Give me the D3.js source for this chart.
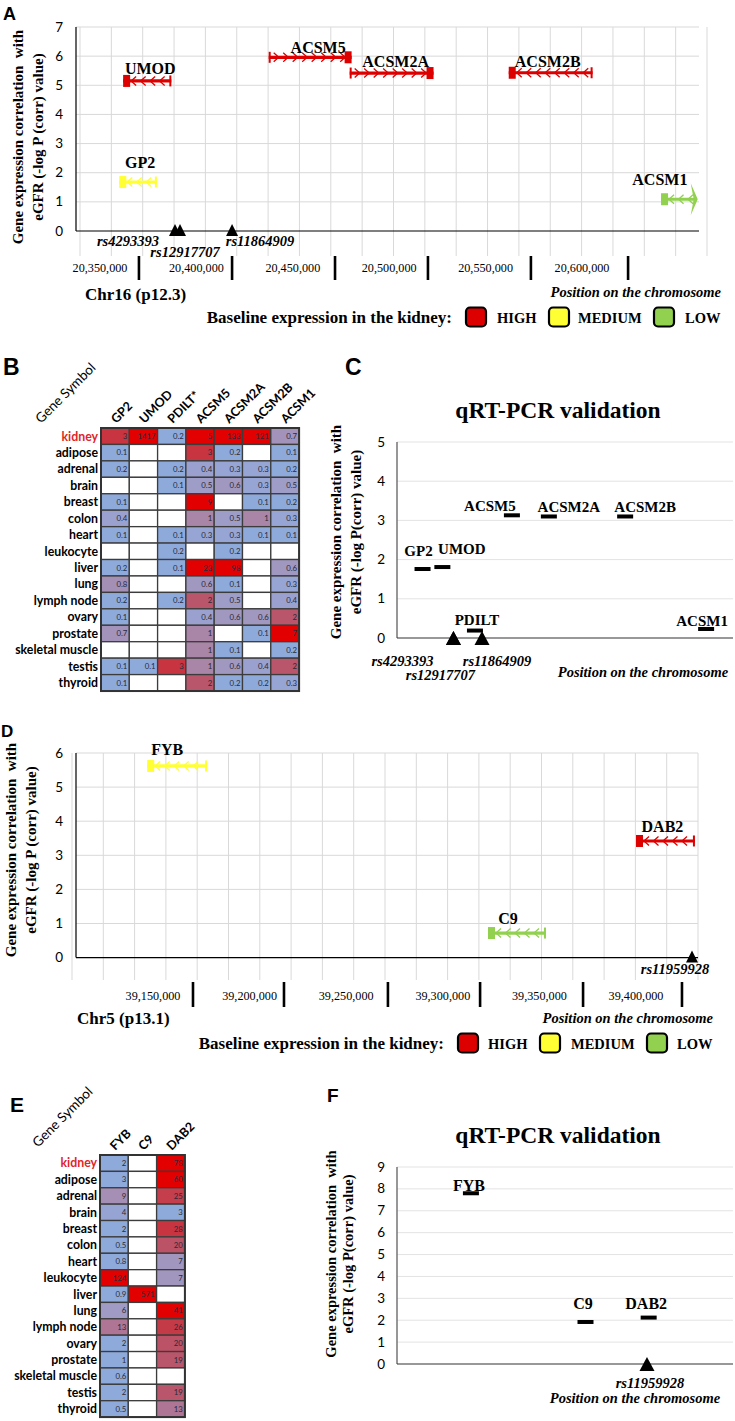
<!DOCTYPE html>
<html><head><meta charset="utf-8">
<script src="https://cdn.jsdelivr.net/npm/d3@7"></script>
<style>
html,body{margin:0;padding:0;background:#fff;}
svg{display:block;}
text{white-space:pre;}
</style></head><body>
<script>
// ================= DATA =================
// Panel A – Chr16 (p12.3)
const genesA  = ["UMOD","GP2","ACSM5","ACSM2A","ACSM2B","ACSM1"];
const startA  = [20362000, 20360000, 20437500, 20479500, 20562000, 20641000];
const endA    = [20387000, 20379500, 20480500, 20523000, 20605500, 20659500];
const corrA   = [5.15, 1.68, 5.96, 5.42, 5.43, 1.09];
const levelA  = ["HIGH","MEDIUM","HIGH","HIGH","HIGH","LOW"];
const strandA = ["-","-","+","+","-","-"];
const snpA    = ["rs4293393","rs12917707","rs11864909"];
const snpPosA = [20388900, 20391500, 20418500];
const tickA   = [20350000,20400000,20450000,20500000,20550000,20600000];
const sepA    = [20370200,20418500,20471900,20520100,20573500,20623900];
const yTicksA = [0,1,2,3,4,5,6,7];

// Panel B – tissue expression (Chr16 genes)
const tissues = ["kidney","adipose","adrenal","brain","breast","colon","heart","leukocyte","liver","lung","lymph node","ovary","prostate","skeletal muscle","testis","thyroid"];
const colsB = ["GP2","UMOD","PDILT*","ACSM5","ACSM2A","ACSM2B","ACSM1"];
const hmB_GP2    = [3,0.1,0.2,null,0.1,0.4,0.1,null,0.2,0.8,0.2,0.1,0.7,null,0.1,0.1];
const hmB_UMOD   = [1417,null,null,null,null,null,null,null,null,null,null,null,null,null,0.1,null];
const hmB_PDILT  = [0.2,null,0.2,0.1,null,null,0.1,0.2,0.1,null,0.2,null,null,null,3,null];
const hmB_ACSM5  = [5,3,0.4,0.5,9,1,0.3,null,23,0.6,2,0.4,1,1,1,2];
const hmB_ACSM2A = [133,0.2,0.3,0.6,null,0.5,0.3,0.2,98,0.1,0.5,0.6,null,0.1,0.6,0.2];
const hmB_ACSM2B = [121,null,0.3,0.3,0.1,1,0.1,null,null,null,null,0.6,0.1,null,0.4,0.2];
const hmB_ACSM1  = [0.7,0.1,0.2,0.5,0.2,0.3,0.1,null,0.6,0.3,0.4,2,7,0.2,2,0.3];
const heatColors = ["#8eaadb","#9da0cc","#a68cb0","#b9566b","#c8343f","#e20000"];
const heatStopsB = [0.2, 0.45, 0.9, 2, 3, 5];

// Panel C – qRT-PCR validation (Chr16)
const genesC   = ["GP2","UMOD","PDILT","ACSM5","ACSM2A","ACSM2B","ACSM1"];
const slotC    = [7.6, 13.5, 23.2, 34.2, 45.2, 67.9, 92.0];
const qpcrC    = [1.76, 1.81, 0.19, 3.13, 3.10, 3.10, 0.23];
const snpC     = ["rs4293393","rs12917707","rs11864909"];
const snpSlotC = [16.8, 16.8, 25.3];
const yTicksC  = [0,1,2,3,4,5];

// Panel D – Chr5 (p13.1)
const genesD  = ["FYB","DAB2","C9"];
const startD  = [39147000, 39400000, 39323400];
const endD    = [39178000, 39430500, 39353400];
const corrD   = [5.62, 3.42, 0.72];
const levelD  = ["MEDIUM","HIGH","LOW"];
const strandD = ["-","-","-"];
const snpD    = ["rs11959928"];
const snpPosD = [39429000];
const tickD   = [39150000,39200000,39250000,39300000,39350000,39400000];
const sepD    = [39170700,39217800,39271600,39319300,39372600,39423800];
const yTicksD = [0,1,2,3,4,5,6];

// Panel E – tissue expression (Chr5 genes)
const colsE = ["FYB","C9","DAB2"];
const hmE_FYB  = [2,3,9,4,2,0.5,0.8,124,0.9,6,13,2,1,0.6,2,0.5];
const hmE_C9   = [null,null,null,null,null,null,null,null,571,null,null,null,null,null,null,null];
const hmE_DAB2 = [78,60,25,3,28,20,7,7,null,41,26,20,19,null,19,13];
const heatStopsE = [3, 5, 10, 19, 28, 41];

// Panel F – qRT-PCR validation (Chr5)
const genesF   = ["FYB","C9","DAB2"];
const slotF    = [22.0, 56.1, 74.9];
const qpcrF    = [7.8, 1.92, 2.12];
const snpF     = ["rs11959928"];
const snpSlotF = [74.4];
const yTicksF  = [0,1,2,3,4,5,6,7,8,9];

const levels = ["HIGH","MEDIUM","LOW"];
const levelColors = ["#dd0000","#ffff33","#92d050"];

// ================= LAYOUT / STYLE =================
const SERIF = "'Liberation Serif','Times New Roman',serif";
const SANS  = "Lato,'Liberation Sans',sans-serif";
const ARIAL = "'Liberation Sans',Arial,sans-serif";
const GRID = "#d9d9d9";

const labelNudgeA = {UMOD:[3,-7],GP2:[2,-14],ACSM5:[8,-4],ACSM2A:[4,-6],ACSM2B:[-3,-6],ACSM1:[-19,-14]};
const snpNudgeA = [[-47,15],[5,26],[28,15]];
const labelNudgeD = {FYB:[-10,-11],DAB2:[-3,-9],C9:[-9,-9]};
const snpNudgeD = [[-17,16]];
const labelNudgeC = {GP2:[-4,-13],UMOD:[19.5,-13],PDILT:[2,-6],ACSM5:[-22,-4],ACSM2A:[20,-4],ACSM2B:[20,-4],ACSM1:[-4,-3]};
const snpNudgeC = [[-51,28],[-13,41.5],[15,28]];
const labelNudgeF = {FYB:[-2,-2],C9:[-2.5,-13],DAB2:[-2.5,-9]};
const snpNudgeF = [[3,24]];

const svg = d3.select("body").append("svg")
  .attr("width",735).attr("height",1421)
  .style("background","#fff");

function txt(g, x, y, s, o) {
  o = o || {};
  const t = g.append("text").attr("x",x).attr("y",y).text(s)
    .attr("font-family", o.family || SERIF)
    .attr("font-size", o.size || 14)
    .attr("font-weight", o.weight || "normal")
    .attr("font-style", o.style || "normal")
    .attr("text-anchor", o.anchor || "start")
    .attr("fill", o.fill || "#000");
  if (o.transform) t.attr("transform", o.transform);
  return t;
}

function panelLetter(x, y, s, size) {
  txt(svg, x, y, s, {family: ARIAL, weight: "bold", size: size});
}

function yLabel(g, x1, x2, cy, size, l1, l2) {
  txt(g, 0, 0, l1, {weight:"bold", size:size, anchor:"middle", transform:`translate(${x1},${cy}) rotate(-90)`});
  txt(g, 0, 0, l2, {weight:"bold", size:size, anchor:"middle", transform:`translate(${x2},${cy}) rotate(-90)`});
}

function triangle(g, cx, apexY, baseY, w) {
  g.append("path").attr("d", `M${cx},${apexY}L${cx+w/2},${baseY}L${cx-w/2},${baseY}Z`).attr("fill","#000");
}

function geneGlyph(g, x0, x1, y, color, strand, special) {
  g.append("line").attr("x1",x0).attr("x2",x1).attr("y1",y).attr("y2",y)
    .attr("stroke",color).attr("stroke-width",3.2);
  const step = 9.5;
  for (let cx = x0 + 9; cx <= x1 - 6; cx += step) {
    const d = strand === "-" ? `M${cx+4},${y-4.5}L${cx-1},${y}L${cx+4},${y+4.5}`
                             : `M${cx-4},${y-4.5}L${cx+1},${y}L${cx-4},${y+4.5}`;
    g.append("path").attr("d",d).attr("fill","none").attr("stroke",color).attr("stroke-width",1.3);
  }
  const sqX = strand === "-" ? x0 : x1 - 7;
  const tkX = strand === "-" ? x1 - 2 : x0;
  g.append("rect").attr("x",sqX).attr("y",y-6).attr("width",7).attr("height",12).attr("fill",color);
  if (special === "feather") {
    g.append("path").attr("d",`M${x1-6},${y-16}L${x1+1},${y}L${x1-6},${y+16}L${x1-3},${y}Z`).attr("fill",color);
  } else {
    g.append("rect").attr("x",tkX).attr("y",y-5.5).attr("width",2).attr("height",11).attr("fill",color);
  }
}

function legend(g, textEnd, cy, boxX, labX) {
  txt(g, textEnd, cy+5.5, "Baseline expression in the kidney:", {weight:"bold", size:17, anchor:"end"});
  levels.forEach((lv, i) => {
    g.append("rect").attr("x",boxX[i]).attr("y",cy-9.5).attr("width",20).attr("height",19)
      .attr("rx",4).attr("fill",levelColors[i]).attr("stroke","#000").attr("stroke-width",2.2);
    txt(g, labX[i], cy+5.5, lv, {weight:"bold", size:14.5});
  });
}

// ---------- genomic panel (A, D) ----------
function genomicPanel(cfg) {
  const g = svg.append("g");
  const x = d3.scaleLinear().domain(cfg.xDomain).range(cfg.xRange);
  const y = d3.scaleLinear().domain(cfg.yDomain).range(cfg.yRange);
  const [left, right] = cfg.frame;
  d3.range(21).forEach(i => {
    const gx = cfg.gridFrom + i * (cfg.gridTo - cfg.gridFrom) / 20;
    g.append("line").attr("x1",gx).attr("x2",gx).attr("y1",y(cfg.yDomain[1])).attr("y2",cfg.gridBottom)
      .attr("stroke",GRID).attr("stroke-width",1);
  });
  cfg.yTicks.forEach(v => {
    if (v === 0) return;
    g.append("line").attr("x1",left).attr("x2",right).attr("y1",y(v)).attr("y2",y(v))
      .attr("stroke",GRID).attr("stroke-width",1);
  });
  g.append("line").attr("x1",left).attr("x2",left).attr("y1",y(cfg.yDomain[1])).attr("y2",y(0))
    .attr("stroke","#000").attr("stroke-width",1.2);
  g.append("line").attr("x1",left).attr("x2",right).attr("y1",y(0)).attr("y2",y(0))
    .attr("stroke","#000").attr("stroke-width",1.2);
  cfg.yTicks.forEach(v => txt(g, left-13, y(v)+4.5, String(v), {family:SANS, size:13.5, anchor:"end"}));
  const fmt = d3.format(",");
  cfg.ticks.forEach(t => txt(g, x(t), cfg.tickBase, fmt(t), {size:12.2, anchor:"middle"}));
  cfg.seps.forEach(s => g.append("line").attr("x1",x(s)).attr("x2",x(s)).attr("y1",cfg.sepY[0]).attr("y2",cfg.sepY[1])
    .attr("stroke","#000").attr("stroke-width",2.6));
  cfg.genes.forEach((name, i) => {
    const col = levelColors[levels.indexOf(cfg.level[i])];
    const x0 = x(cfg.start[i]), x1 = x(cfg.end[i]), gy = y(cfg.corr[i]);
    geneGlyph(g, x0, x1, gy, col, cfg.strand[i], name === "ACSM1" ? "feather" : null);
    const nd = cfg.nudge[name];
    txt(g, (x0+x1)/2 + nd[0], gy + nd[1], name, {weight:"bold", size:16, anchor:"middle"});
  });
  cfg.snps.forEach((s, i) => {
    const sx = x(cfg.snpPos[i]);
    triangle(g, sx, y(0)-7, y(0)+5, 12);
    txt(g, sx + cfg.snpNudge[i][0], y(0) + cfg.snpNudge[i][1], s, {weight:"bold", style:"italic", size:14.5, anchor:"middle"});
  });
  txt(g, cfg.chrX, cfg.chrY, cfg.chr, {weight:"bold", size:17});
  txt(g, cfg.posX, cfg.posY, "Position on the chromosome", {weight:"bold", style:"italic", size:14.5, anchor:"end"});
  yLabel(g, cfg.yl[0], cfg.yl[1], cfg.yl[2], 15, "Gene expression correlation  with", "eGFR (-log P (corr) value)");
  legend(g, cfg.leg.textEnd, cfg.leg.cy, cfg.leg.box, cfg.leg.lab);
}

genomicPanel({
  xDomain:[20350000,20600000], xRange:[100,582],
  yDomain:[0,7], yRange:[231,27], yTicks:yTicksA,
  frame:[76,699], gridFrom:80, gridTo:707, gridBottom:256,
  ticks:tickA, tickBase:272, seps:sepA, sepY:[256,280],
  genes:genesA, start:startA, end:endA, corr:corrA, level:levelA, strand:strandA, nudge:labelNudgeA,
  snps:snpA, snpPos:snpPosA, snpNudge:snpNudgeA,
  chr:"Chr16 (p12.3)", chrX:85, chrY:300, posX:721, posY:297,
  yl:[23,43,137],
  leg:{textEnd:452, cy:317, box:[466,549,654], lab:[497,578,685]}
});

genomicPanel({
  xDomain:[39150000,39400000], xRange:[153,636],
  yDomain:[0,6], yRange:[957.6,753], yTicks:yTicksD,
  frame:[76,698], gridFrom:72, gridTo:698, gridBottom:980,
  ticks:tickD, tickBase:1000, seps:sepD, sepY:[982,1007],
  genes:genesD, start:startD, end:endD, corr:corrD, level:levelD, strand:strandD, nudge:labelNudgeD,
  snps:snpD, snpPos:snpPosD, snpNudge:snpNudgeD,
  chr:"Chr5 (p13.1)", chrX:77, chrY:1024, posX:713, posY:1023,
  yl:[16,36,850],
  leg:{textEnd:444, cy:1043, box:[458,540,647], lab:[488,571,677]}
});

// ---------- heatmaps (B, E) ----------
function heatmap(cfg) {
  const g = svg.append("g");
  const color = d3.scaleLog().domain(cfg.stops).range(heatColors).interpolate(d3.interpolateRgb).clamp(true);
  const x = d3.scaleBand().domain(cfg.cols).range([cfg.x0, cfg.x0 + cfg.cw * cfg.cols.length]);
  const y = d3.scaleBand().domain(tissues).range([cfg.y0, cfg.y0 + cfg.ch * tissues.length]);
  cfg.cols.forEach((c, j) => {
    tissues.forEach((t, i) => {
      const v = cfg.values[j][i];
      g.append("rect").attr("x",x(c)).attr("y",y(t)).attr("width",x.bandwidth()).attr("height",y.bandwidth())
        .attr("fill", v == null ? "#fff" : color(v)).attr("stroke","#3c3c3c").attr("stroke-width",1.3);
      if (v != null) txt(g, x(c)+x.bandwidth()-2, y(t)+y.bandwidth()/2+2.8, String(v),
        {family:SANS, size:7.8, anchor:"end", fill:"#2a2a3a"});
    });
    txt(g, 0, 0, c, {family:SANS, size:12.5, weight:"bold", anchor:"start",
      transform:`translate(${x(c)+x.bandwidth()/2+1},${cfg.y0-4}) rotate(-45)`});
  });
  g.append("rect").attr("x",cfg.x0).attr("y",cfg.y0).attr("width",x.range()[1]-cfg.x0).attr("height",y.range()[1]-cfg.y0)
    .attr("fill","none").attr("stroke","#333").attr("stroke-width",2);
  tissues.forEach(t => txt(g, cfg.x0-3, y(t)+y.bandwidth()/2+4.3, t,
    {family:SANS, size:12.3, weight:"bold", anchor:"end", fill: t === "kidney" ? "#e0262b" : "#000"}));
  txt(g, 0, 0, "Gene Symbol", {family:SANS, size:13.5, anchor:"start",
    transform:`translate(${cfg.gsX},${cfg.gsY}) rotate(-45)`});
}

heatmap({cols:colsB, values:[hmB_GP2,hmB_UMOD,hmB_PDILT,hmB_ACSM5,hmB_ACSM2A,hmB_ACSM2B,hmB_ACSM1],
  stops:heatStopsB, x0:101, y0:428, cw:28.3, ch:16.44, gsX:41, gsY:424});
heatmap({cols:colsE, values:[hmE_FYB,hmE_C9,hmE_DAB2],
  stops:heatStopsE, x0:100, y0:1155, cw:28.3, ch:16.38, gsX:38, gsY:1148});

// ---------- qRT-PCR panels (C, F) ----------
function qpcrPanel(cfg) {
  const g = svg.append("g");
  const x = d3.scaleLinear().domain([0,100]).range([397,733]);
  const y = d3.scaleLinear().domain(cfg.yDomain).range(cfg.yRange);
  cfg.yTicks.forEach(v => {
    if (v > 0) g.append("line").attr("x1",397).attr("x2",733).attr("y1",y(v)).attr("y2",y(v))
      .attr("stroke","#e3e3e3").attr("stroke-width",1);
    txt(g, 385, y(v)+4.5, String(v), {family:SANS, size:13.5, anchor:"end"});
  });
  g.append("line").attr("x1",397).attr("x2",397).attr("y1",y(cfg.yDomain[1])).attr("y2",y(0))
    .attr("stroke","#6b6b6b").attr("stroke-width",1.4);
  g.append("line").attr("x1",397).attr("x2",733).attr("y1",y(0)).attr("y2",y(0))
    .attr("stroke","#333").attr("stroke-width",1.2);
  cfg.genes.forEach((n, i) => {
    const cx = x(cfg.slot[i]), cy = y(cfg.val[i]);
    g.append("rect").attr("x",cx-8).attr("y",cy-2).attr("width",16).attr("height",4).attr("fill","#000");
    const nd = cfg.nudge[n];
    txt(g, cx + nd[0], cy + nd[1], n, {weight:"bold", size:cfg.labSize, anchor:"middle"});
  });
  cfg.snps.forEach((s, i) => {
    const sx = x(cfg.snpSlot[i]);
    triangle(g, sx, y(0)-7, y(0)+7, 15);
    txt(g, sx + cfg.snpNudge[i][0], y(0) + cfg.snpNudge[i][1], s, {weight:"bold", style:"italic", size:14.5, anchor:"middle"});
  });
  txt(g, 558, cfg.titleY, "qRT-PCR validation", {weight:"bold", size:23.5, anchor:"middle"});
  txt(g, cfg.posX, cfg.posY, "Position on the chromosome", {weight:"bold", style:"italic", size:14.5, anchor:"middle"});
  yLabel(g, cfg.yl[0], cfg.yl[1], cfg.yl[2], cfg.ylSize, "Gene expression correlation  with", "eGFR (-log P(corr) value)");
}

qpcrPanel({yDomain:[0,5], yRange:[638,442], yTicks:yTicksC,
  genes:genesC, slot:slotC, val:qpcrC, nudge:labelNudgeC, labSize:15,
  snps:snpC, snpSlot:snpSlotC, snpNudge:snpNudgeC,
  titleY:418, posX:643, posY:677, yl:[341,361,532], ylSize:15});
qpcrPanel({yDomain:[0,9], yRange:[1364,1167], yTicks:yTicksF,
  genes:genesF, slot:slotF, val:qpcrF, nudge:labelNudgeF, labSize:16,
  snps:snpF, snpSlot:snpSlotF, snpNudge:snpNudgeF,
  titleY:1143, posX:635, posY:1403, yl:[336,353,1254], ylSize:14.5});

// ---------- panel letters ----------
panelLetter(3, 20, "A", 18);
panelLetter(3, 375, "B", 23);
panelLetter(345, 375, "C", 23);
panelLetter(1, 737, "D", 17);
panelLetter(10, 1112, "E", 21);
panelLetter(327, 1102, "F", 19);
</script>
</body></html>
